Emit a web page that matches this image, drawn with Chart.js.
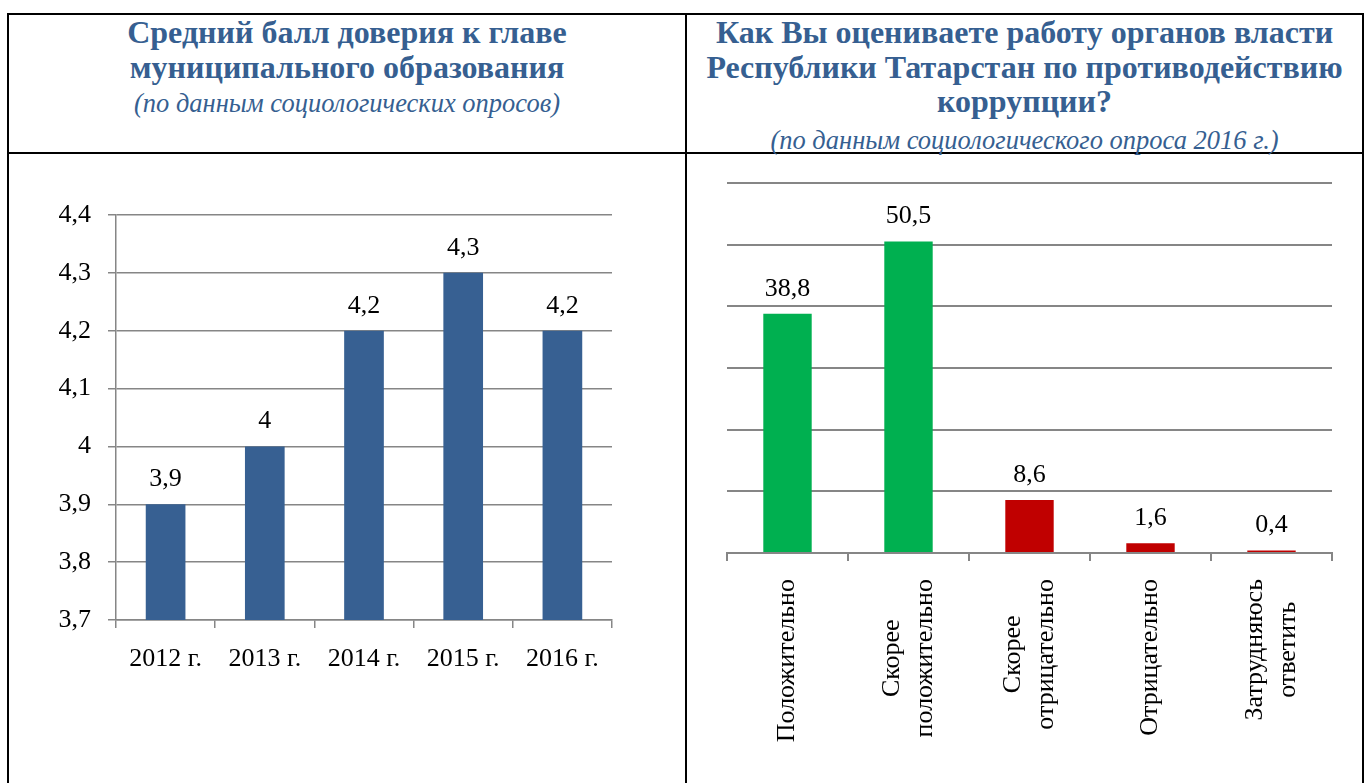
<!DOCTYPE html>
<html>
<head>
<meta charset="utf-8">
<script src="https://cdn.jsdelivr.net/npm/chart.js@4/dist/chart.umd.min.js"></script>
<style>
  body { margin: 0; background: #fff; width: 1366px; height: 783px; overflow: hidden; position: relative; font-family: "Liberation Serif", "Times New Roman", serif; }
  .line { position: absolute; background: #000; }
  .title { position: absolute; text-align: center; color: #365F91; font-weight: bold; font-size: 32px; line-height: 34.5px; white-space: nowrap; }
  .sub { position: absolute; text-align: center; color: #365F91; font-style: italic; font-size: 26.5px; line-height: 28px; white-space: nowrap; }
  canvas { position: absolute; }
</style>
</head>
<body>
<div class="line" style="left:7px;top:13px;width:1357px;height:2px"></div>
<div class="line" style="left:7px;top:152px;width:1357px;height:2px"></div>
<div class="line" style="left:7px;top:13px;width:2px;height:770px"></div>
<div class="line" style="left:685px;top:13px;width:2px;height:770px"></div>
<div class="line" style="left:1362px;top:13px;width:2px;height:770px"></div>

<div class="title" style="left:9px;width:676px;top:15px">Средний балл доверия к главе<br>муниципального образования</div>
<div class="sub" style="left:9px;width:676px;top:89px">(по данным социологических опросов)</div>
<div class="title" style="left:687px;width:675px;top:15px">Как Вы оцениваете работу органов власти<br>Республики Татарстан по противодействию<br>коррупции?</div>
<div class="sub" style="left:687px;width:675px;top:126px">(по данным социологического опроса 2016 г.)</div>

<canvas id="trustChart" width="674" height="627" style="left:10px;top:156px"></canvas>
<canvas id="corruptionChart" width="674" height="627" style="left:688px;top:156px"></canvas>

<script>
// левая диаграмма
var trustYears = ["2012 г.", "2013 г.", "2014 г.", "2015 г.", "2016 г."];
var trustScores = [3.9, 4, 4.2, 4.3, 4.2];
var trustAxisMin = 3.7, trustAxisMax = 4.4, trustAxisStep = 0.1;

// правая диаграмма
var answerLabels = [["Положительно"], ["Скорее", "положительно"], ["Скорее", "отрицательно"], ["Отрицательно"], ["Затрудняюсь", "ответить"]];
var answerShares = [38.8, 50.5, 8.6, 1.6, 0.4];
var answerColors = ["#00B050", "#00B050", "#C00000", "#C00000", "#C00000"];
var answerAxisMin = 0, answerAxisMax = 60, answerAxisStep = 10;

const FONT = "'Liberation Serif', 'Times New Roman', serif";
const GRID = "#868686";

function ruNum(v) {
    return String(Number(v.toFixed(1))).replace(".", ",");
}

// подписи значений над столбцами
const valueLabels = {
    id: "valueLabels",
    afterDatasetsDraw(chart) {
        var ctx = chart.ctx;
        var meta = chart.getDatasetMeta(0);
        var data = chart.data.datasets[0].data;
        ctx.save();
        ctx.font = "26px " + FONT;
        ctx.fillStyle = "#000";
        ctx.textAlign = "center";
        ctx.textBaseline = "middle";
        meta.data.forEach(function(bar, i) {
            ctx.fillText(ruNum(data[i]), bar.x, bar.y - 25);
        });
        ctx.restore();
    }
};

// вертикальные подписи категорий, строки по центру блока
const verticalLabels = {
    id: "verticalLabels",
    afterDraw(chart) {
        var ctx = chart.ctx;
        var xs = chart.scales.x;
        var lineH = 33;
        ctx.save();
        ctx.font = "26px " + FONT;
        ctx.fillStyle = "#000";
        ctx.textAlign = "center";
        ctx.textBaseline = "middle";
        answerLabels.forEach(function(lines, i) {
            var x = xs.getPixelForValue(i);
            var w = Math.max.apply(null, lines.map(function(l) { return ctx.measureText(l).width; }));
            ctx.save();
            ctx.translate(x, xs.top + 26 + w / 2);
            ctx.rotate(-Math.PI / 2);
            lines.forEach(function(l, j) {
                ctx.fillText(l, 0, (j - (lines.length - 1) / 2) * lineH);
            });
            ctx.restore();
        });
        ctx.restore();
    }
};

function drawCharts() {
    new Chart(document.getElementById("trustChart"), {
        type: "bar",
        data: {
            labels: trustYears,
            datasets: [{
                data: trustScores,
                backgroundColor: "#376092",
                categoryPercentage: 1,
                barPercentage: 0.4
            }]
        },
        options: {
            responsive: false,
            animation: false,
            devicePixelRatio: 1,
            layout: { padding: { top: 59, right: 72, bottom: 103, left: 0 } },
            plugins: { legend: { display: false }, tooltip: { enabled: false } },
            scales: {
                x: {
                    grid: { drawOnChartArea: false, color: GRID, lineWidth: 1.5, tickLength: 8 },
                    border: { color: GRID, width: 1.5 },
                    ticks: { font: { family: FONT, size: 26 }, color: "#000", padding: 16, maxRotation: 0 },
                    afterFit: function(s) { s.height = 60; }
                },
                y: {
                    min: trustAxisMin,
                    max: trustAxisMax,
                    grid: { color: GRID, lineWidth: 1.5, tickLength: 8 },
                    border: { color: GRID, width: 1.5 },
                    ticks: {
                        stepSize: trustAxisStep,
                        font: { family: FONT, size: 26 },
                        color: "#000",
                        padding: 17,
                        callback: function(v) { return ruNum(v); }
                    },
                    afterFit: function(s) { s.width = 106; }
                }
            }
        },
        plugins: [valueLabels]
    });

    new Chart(document.getElementById("corruptionChart"), {
        type: "bar",
        data: {
            labels: answerLabels,
            datasets: [{
                data: answerShares,
                backgroundColor: answerColors,
                categoryPercentage: 1,
                barPercentage: 0.4
            }]
        },
        options: {
            responsive: false,
            animation: false,
            devicePixelRatio: 1,
            layout: { padding: { top: 27, right: 30, bottom: 200, left: 39 } },
            plugins: { legend: { display: false }, tooltip: { enabled: false } },
            scales: {
                x: {
                    grid: { drawOnChartArea: false, color: GRID, lineWidth: 2, tickLength: 8 },
                    border: { color: GRID, width: 2 },
                    ticks: { display: false },
                    afterFit: function(s) { s.height = 30; }
                },
                y: {
                    min: answerAxisMin,
                    max: answerAxisMax,
                    grid: { color: GRID, lineWidth: 2, drawTicks: false },
                    border: { display: false },
                    ticks: { display: false, stepSize: answerAxisStep },
                    afterFit: function(s) { s.width = 0; }
                }
            }
        },
        plugins: [valueLabels, verticalLabels]
    });
}

if (document.fonts && document.fonts.ready) {
    document.fonts.ready.then(drawCharts);
} else {
    drawCharts();
}
</script>
</body>
</html>
